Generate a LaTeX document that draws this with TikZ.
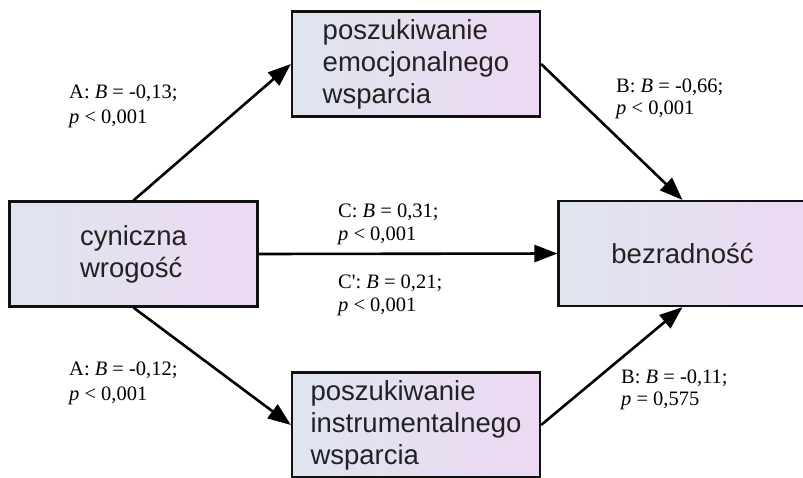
\documentclass[tikz,border=0pt]{standalone}
\usepackage{fontspec}
\setmainfont{Liberation Serif}
\newfontfamily\rawserif[Ligatures=TeXOff]{Liberation Serif}
\newfontfamily\boxfont{Liberation Sans}
\usetikzlibrary{arrows.meta,calc}
\definecolor{lc}{HTML}{DFE5EE}
\definecolor{rc}{HTML}{EDD9F3}
\definecolor{bordc}{HTML}{111111}
\definecolor{txtc}{HTML}{222222}
\begin{document}
\begin{tikzpicture}[x=1pt,y=-1pt,
  box/.style={draw=bordc,line width=2.2pt,left color=lc,right color=rc,
    minimum width=248pt,minimum height=105pt,inner sep=0pt,align=left,
    font=\boxfont\fontsize{27.5}{32}\selectfont,text=txtc},
  lab/.style={anchor=base west,inner sep=0pt,font=\fontsize{20.5}{24}\selectfont},
  arr/.style={line width=2.6pt,-{Triangle[length=23pt,width=17pt]}}]
\useasboundingbox (0,0) rectangle (803,477);

\node[box] (L) at (133.5,254) {cyniczna\\wrogość};
\node[box] (T) at (416,64) {poszukiwanie\\emocjonalnego\\wsparcia};
\node[box] (B) at (416,425) {poszukiwanie\\instrumentalnego\\wsparcia};
\node[box] (R) at (682.5,253.5) {bezradność};

\draw[arr] (L.north) -- (T.west);
\draw[arr] (T.east) -- (R.north);
\draw[arr] (L.east) -- (R.west);
\draw[arr] (L.south) -- (B.west);
\draw[arr] (B.east) -- (R.south);

\node[lab] (a1) at (69,98) {A: \textit{B} = -0,13;};
\node[lab] (a1p) at (69,123) {\textit{p} < 0,001};
\node[lab] (a2) at (69,375) {A: \textit{B} = -0,12;};
\node[lab] (a2p) at (69,400) {\textit{p} < 0,001};
\node[lab] (c1) at (338,217) {C: \textit{B} = 0,31;};
\node[lab] (c1p) at (338,240) {\textit{p} < 0,001};
\node[lab] (c2) at (338,288) {{\rawserif C'}: \textit{B} = 0,21;};
\node[lab] (c2p) at (338,311) {\textit{p} < 0,001};
\node[lab] (b1) at (616,92) {B: \textit{B} = -0,66;};
\node[lab] (b1p) at (616,114) {\textit{p} < 0,001};
\node[lab] (b2) at (621,383) {B: \textit{B} = -0,11;};
\node[lab] (b2p) at (621,405) {\textit{p} = 0,575};
\end{tikzpicture}
\end{document}
